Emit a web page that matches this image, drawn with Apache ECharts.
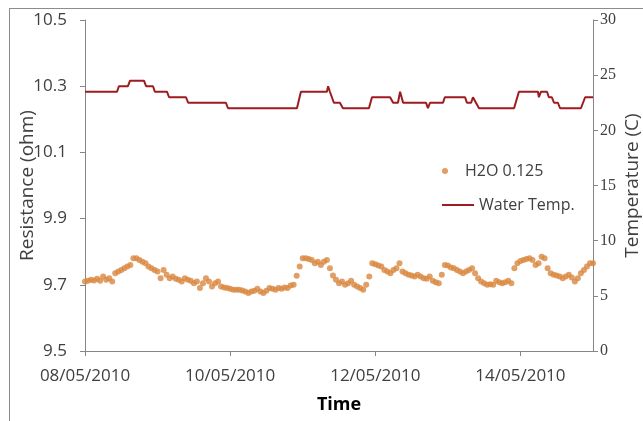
<!DOCTYPE html>
<html>
<head>
<meta charset="utf-8">
<script src="https://cdn.jsdelivr.net/npm/echarts@6/dist/echarts.min.js"></script>
<style>
  html, body { margin: 0; padding: 0; background: #fff; }
  #chart { width: 643px; height: 421px; }
  #frame {
    position: absolute; left: 9px; top: 8px; width: 640px; height: 420px;
    border-left: 1px solid #8c8c8c; border-top: 1px solid #8c8c8c;
    pointer-events: none;
  }
</style>
</head>
<body>
<div id="chart"></div>
<div id="frame"></div>
<script>
// hours since 08/05/2010 00:00
var xTicks = [0, 48, 96, 144];
var xLabels = ['08/05/2010', '10/05/2010', '12/05/2010', '14/05/2010'];
var leftTicks = [9.5, 9.7, 9.9, 10.1, 10.3, 10.5];

// resistance, one reading per hour
var resValues = [
  9.71, 9.712, 9.715, 9.713, 9.718, 9.712, 9.725, 9.715, 9.72, 9.71,
  9.735, 9.74, 9.745, 9.75, 9.755, 9.76, 9.78, 9.78, 9.775, 9.77,
  9.765, 9.755, 9.75, 9.745, 9.74, 9.72, 9.745, 9.73, 9.72, 9.725,
  9.718, 9.715, 9.71, 9.72, 9.715, 9.712, 9.705, 9.71, 9.69, 9.705,
  9.72, 9.71, 9.695, 9.705, 9.71, 9.695, 9.692, 9.69, 9.688, 9.685,
  9.685, 9.685, 9.683, 9.68, 9.675, 9.68, 9.682, 9.688, 9.68, 9.675,
  9.682, 9.69, 9.688, 9.685, 9.69, 9.688, 9.692, 9.69, 9.698, 9.70,
  9.727, 9.755, 9.78, 9.78, 9.778, 9.775, 9.765, 9.77, 9.76, 9.77,
  9.775, 9.75, 9.728, 9.715, 9.705, 9.71, 9.70, 9.705, 9.712, 9.70,
  9.695, 9.69, 9.685, 9.70, 9.725, 9.765, 9.762, 9.758, 9.755, 9.745,
  9.74, 9.735, 9.745, 9.75, 9.765, 9.74, 9.735, 9.73, 9.728, 9.725,
  9.73, 9.725, 9.72, 9.718, 9.725, 9.712, 9.708, 9.705, 9.73, 9.76,
  9.758, 9.752, 9.75, 9.745, 9.74, 9.735, 9.74, 9.745, 9.75, 9.735,
  9.72, 9.71, 9.705, 9.70, 9.702, 9.70, 9.712, 9.708, 9.705, 9.708,
  9.712, 9.705, 9.75, 9.765, 9.772, 9.775, 9.778, 9.78, 9.775, 9.76,
  9.765, 9.785, 9.78, 9.75, 9.735, 9.73, 9.728, 9.725, 9.72, 9.725,
  9.73, 9.722, 9.71, 9.72, 9.735, 9.745, 9.755, 9.765, 9.765
];

// water temperature, at the hours where it changes
var tempHours = [
  0, 10.6, 11.2, 14.2, 14.9, 19.5, 20.2, 22.5, 23.1, 27.1,
  27.8, 33.4, 34.1, 46.6, 47.3, 70.1, 71.4, 80.0, 80.4, 81.0,
  82.3, 84.3, 85.3, 93.9, 94.9, 100.9, 101.9, 103.5, 104.2, 105.2,
  112.8, 113.4, 114.1, 118.4, 119.0, 125.7, 126.3, 127.7, 128.3, 129.3,
  130.3, 141.9, 143.5, 149.8, 150.1, 150.8, 152.8, 153.4, 154.4, 155.1,
  156.4, 157.1, 164.0, 165.4, 168
];
var tempValues = [
  23.5, 23.5, 24, 24, 24.5, 24.5, 24, 24, 23.5, 23.5,
  23, 23, 22.5, 22.5, 22, 22, 23.5, 23.5, 24, 23.5,
  22.5, 22.5, 22, 22, 23, 23, 22.5, 22.5, 23.5, 22.5,
  22.5, 22, 22.5, 22.5, 23, 23, 22.5, 22.5, 23, 22.5,
  22, 22, 23.5, 23.5, 23, 23.5, 23.5, 23, 23, 22.5,
  22.5, 22, 22, 23, 23
];

var resData = resValues.map(function (v, i) { return [i, v]; });
var tempData = tempHours.map(function (h, i) { return [h, tempValues[i]]; });

var font = 'Open Sans';
var txt = '#404040';
var axisCol = '#868686';

var chart = echarts.init(document.getElementById('chart'));
chart.setOption({
  animation: false,
  backgroundColor: '#fff',
  textStyle: { fontFamily: font },
  grid: { left: 85, right: 50, top: 20, bottom: 70, containLabel: false, outerBoundsMode: 'none' },
  legend: [{
    data: ['H2O 0.125'],
    left: 437, top: 158,
    icon: 'circle', itemWidth: 30, itemHeight: 6,
    textStyle: { fontFamily: font, fontSize: 16, color: txt }
  }, {
    data: ['Water Temp.'],
    left: 437, top: 192,
    icon: 'rect', itemWidth: 32, itemHeight: 2,
    textStyle: { fontFamily: font, fontSize: 16, color: txt }
  }],
  xAxis: {
    type: 'value', min: 0, max: 168,
    name: 'Time', nameLocation: 'middle', nameGap: 45, nameMoveOverlap: false,
    nameTextStyle: { fontFamily: font, fontSize: 18, fontWeight: 'bold', color: '#000' },
    axisLine: { show: true, lineStyle: { color: axisCol } },
    axisTick: { show: true, length: 5, customValues: xTicks, lineStyle: { color: axisCol } },
    axisLabel: {
      customValues: xTicks, margin: 17, fontFamily: font, fontSize: 17, color: txt,
      formatter: function (v) { return xLabels[xTicks.indexOf(v)] || ''; }
    },
    splitLine: { show: false }
  },
  yAxis: [{
    type: 'value', min: 9.5, max: 10.5, position: 'left',
    name: 'Resistance (ohm)', nameLocation: 'middle', nameGap: 48, nameMoveOverlap: false,
    nameTextStyle: { fontFamily: font, fontSize: 19, color: txt },
    axisLine: { show: true, lineStyle: { color: axisCol } },
    axisTick: { show: true, length: 5, customValues: leftTicks, lineStyle: { color: axisCol } },
    axisLabel: {
      customValues: leftTicks, margin: 18, fontFamily: font, fontSize: 17, color: txt,
      formatter: function (v) { return v.toFixed(1); }
    },
    splitLine: { show: false }
  }, {
    type: 'value', min: 0, max: 30, interval: 5, position: 'right',
    name: 'Temperature (C)', nameLocation: 'middle', nameGap: 30, nameMoveOverlap: false,
    nameTextStyle: { fontFamily: font, fontSize: 19, color: txt },
    axisLine: { show: true, lineStyle: { color: axisCol } },
    axisTick: { show: true, length: 5, lineStyle: { color: axisCol } },
    axisLabel: { margin: 7, fontFamily: 'Liberation Serif', fontSize: 16, color: txt },
    splitLine: { show: false }
  }],
  series: [{
    name: 'H2O 0.125',
    type: 'scatter',
    yAxisIndex: 0,
    data: resData,
    symbol: 'circle',
    symbolSize: 6,
    itemStyle: { color: '#D9873F' }
  }, {
    name: 'Water Temp.',
    type: 'line',
    yAxisIndex: 1,
    data: tempData,
    showSymbol: false,
    symbol: 'none',
    lineStyle: { color: '#9E1B20', width: 2 },
    itemStyle: { color: '#9E1B20' }
  }]
});
</script>
</body>
</html>
